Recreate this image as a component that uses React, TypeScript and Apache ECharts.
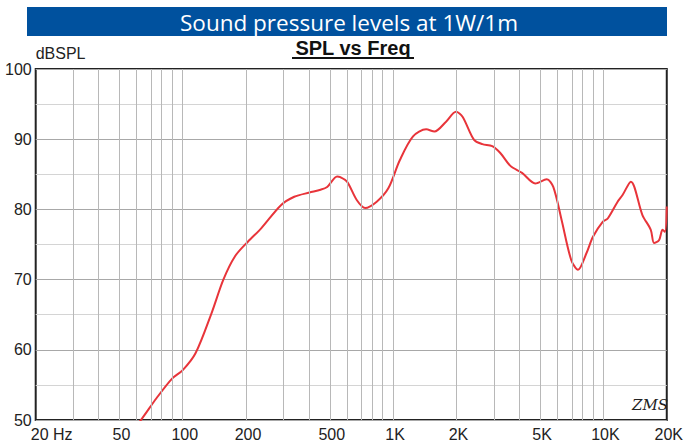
import React, { useEffect, useRef } from "react";
import * as echarts from "echarts";

const freqs = [50, 64, 75, 89, 100, 115, 137, 156, 177, 204, 236, 293, 339, 400, 452, 486, 542, 561, 604, 673, 736, 836, 949, 1076, 1244, 1436, 1573, 1786, 1991, 2139, 2426, 2657, 2960, 3241, 3611, 4102, 4741, 5377, 5775, 6325, 7026, 7571, 8300, 8917, 9938, 10484, 11680, 12330, 13500, 15320, 16790, 17400, 18370, 19100, 19620, 20000];
const spl = [46, 50.2, 53.1, 55.9, 57.1, 59.5, 65.2, 70, 73.3, 75.4, 77.3, 80.6, 81.8, 82.4, 82.8, 83.2, 84.7, 84.6, 83.95, 81.3, 80.2, 81.1, 83.0, 87.0, 90.4, 91.4, 91.1, 92.5, 93.9, 93.2, 89.9, 89.3, 89.0, 88.0, 86.2, 85.2, 83.7, 84.3, 83.2, 78.5, 72.8, 71.4, 73.75, 76.1, 78.25, 78.7, 81.1, 82.05, 83.95, 79.2, 77.1, 75.2, 75.6, 77.1, 76.8, 80.4];

const labelFreqs = [20, 50, 100, 200, 500, 1000, 2000, 5000, 10000, 20000];
const labelTexts = ["20 Hz", "50", "100", "200", "500", "1K", "2K", "5K", "10K", "20K"];
const gridFreqs = [30, 40, 50, 60, 70, 80, 90, 100, 200, 300, 400, 500, 600, 700, 800, 900, 1000, 2000, 3000, 4000, 5000, 6000, 7000, 8000, 9000, 10000];

const titleText = "Sound pressure levels at 1W/1m";
const subTitle = "SPL vs Freq";
const yName = "dBSPL";

const FONT = "'Liberation Sans', Arial, sans-serif";

export default function App() {
  const ref = useRef<HTMLDivElement>(null);
  useEffect(() => {
    if (!ref.current) return;
    const chart = echarts.init(ref.current, null, { renderer: "svg" });
    const lg = (f: number) => Math.log10(f);
    const labelMap: Record<string, string> = {};
    labelFreqs.forEach((f, i) => (labelMap[lg(f).toFixed(4)] = labelTexts[i]));
    chart.setOption({
      animation: false,
      backgroundColor: "#fff",
      graphic: [
        { type: "rect", shape: { x: 27, y: 7, width: 640, height: 29 }, style: { fill: "#00519E" } },
        {
          type: "text", x: 349, y: 22,
          style: { text: titleText, fill: "#fff", font: "22.5px 'Open Sans', sans-serif", align: "center", verticalAlign: "middle" },
        },
        {
          type: "text", x: 353, y: 48,
          style: { text: subTitle, fill: "#111", font: "bold 20px " + FONT, align: "center", verticalAlign: "middle" },
        },
        { type: "line", shape: { x1: 292, y1: 58, x2: 414, y2: 58 }, style: { stroke: "#111", lineWidth: 2 } },
        {
          type: "text", x: 650, y: 405,
          style: { text: "ZMS", fill: "#222", font: "italic 15px 'DejaVu Serif', serif", align: "center", verticalAlign: "middle" },
        },
      ],
      grid: { left: 35.7, right: 13, top: 69, bottom: 22, show: true, borderColor: "#222", borderWidth: 2, backgroundColor: "transparent" },
      xAxis: {
        type: "value",
        min: lg(20),
        max: lg(20000),
        axisLine: { show: false },
        axisTick: { show: false },
        splitLine: { show: false },
        axisLabel: {
          customValues: labelFreqs.map(lg),
          margin: 6,
          color: "#222",
          fontSize: 16,
          fontFamily: FONT,
          padding: [0, 0, 0, 4],
          formatter: (v: number) => {
            const t = labelMap[v.toFixed(4)] ?? "";
            return t === "20 Hz" ? "{a|" + t + "}" : t;
          },
          rich: { a: { padding: [0, 0, 0, 28], fontSize: 16, fontFamily: FONT, color: "#222" } },
        },
      },
      yAxis: {
        type: "value",
        min: 50,
        max: 100,
        interval: 5,
        name: yName,
        nameLocation: "end",
        nameGap: 8,
        nameTextStyle: { align: "left", color: "#222", fontSize: 16, fontFamily: FONT, padding: [0, 0, 0, 0] },
        axisLine: { show: false },
        axisTick: { show: false },
        axisLabel: {
          margin: 4,
          color: "#222",
          fontSize: 16,
          fontFamily: FONT,
          formatter: (v: number) => (v % 10 === 0 ? String(v) : ""),
        },
        splitLine: { show: true, lineStyle: { color: ["#a8a8a8", "#d4d4d4"], width: 1 } },
      },
      series: [
        {
          type: "line",
          z: 1,
          data: [[lg(20), 50]],
          showSymbol: false,
          symbol: "none",
          lineStyle: { width: 0 },
          silent: true,
          markLine: {
            silent: true,
            symbol: ["none", "none"],
            label: { show: false },
            lineStyle: { color: "#b8b8b8", width: 1, type: "solid" },
            data: gridFreqs.map((f) => ({ xAxis: lg(f) })),
          },
        },
        {
          type: "line",
          z: 3,
          data: freqs.map((f, i) => [lg(f), spl[i]]),
          showSymbol: false,
          symbol: "none",
          smooth: 0.3,
          clip: true,
          lineStyle: { color: "#E8343A", width: 2 },
        },
      ],
    });
    return () => chart.dispose();
  }, []);
  return <div ref={ref} style={{ position: "fixed", left: 0, top: 0, width: 686, height: 442 }} />;
}
